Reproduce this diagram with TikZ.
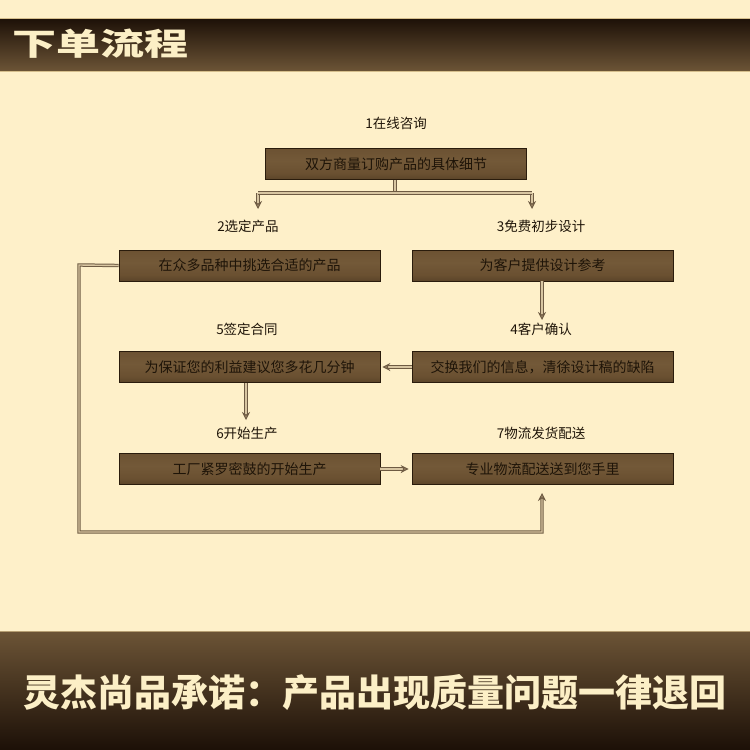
\documentclass[tikz,border=0pt]{standalone}
\usepackage{fontspec}
\newfontfamily\cjk{Noto Sans CJK SC}
\usetikzlibrary{arrows.meta}
\definecolor{bg}{HTML}{FEF0C9}
\definecolor{cream}{HTML}{FCEFC6}
\definecolor{ink}{HTML}{1E1408}
\definecolor{bandtop}{HTML}{1C1007}
\definecolor{bandmid}{HTML}{4E3B24}
\definecolor{bandbot}{HTML}{6C5436}
\definecolor{boxedge}{HTML}{2A1C0C}
\definecolor{boxdark}{HTML}{4A3620}
\definecolor{boxmid}{HTML}{6A5031}
\definecolor{boxlight}{HTML}{735938}
\definecolor{lineout}{HTML}{6E5B43}
\definecolor{linein}{HTML}{D8C6A2}
\definecolor{tipfill}{HTML}{A38D6C}
\definecolor{edge}{HTML}{D5BE8C}
\pgfdeclareverticalshading{boxshade}{100bp}{color(0bp)=(boxedge); color(3bp)=(boxedge); color(14bp)=(boxdark); color(35bp)=(boxmid); color(55bp)=(boxlight); color(80bp)=(boxmid); color(93bp)=(boxdark); color(97bp)=(boxedge); color(100bp)=(boxedge)}
\tikzset{
  stepbox/.style={rectangle, minimum width=261pt, minimum height=31pt, inner sep=0pt,
    shading=boxshade, draw=boxedge, line width=0.6pt, text=ink,
    font=\cjk\fontsize{14}{14}\selectfont},
  lab/.style={text=ink, inner sep=0pt, font=\cjk\fontsize{13.5}{14}\selectfont},
  conn/.style={draw=lineout, line width=1pt, double=linein, double distance=1.4pt},
  arr/.style={-{Stealth[length=8pt,width=8pt,inset=2.6pt,fill=tipfill]}}
}
\begin{document}
\begin{tikzpicture}[x=1pt,y=-1pt]
\useasboundingbox (0,0) rectangle (750,750);
\fill[bg] (0,0) rectangle (750,750);
% header band
\shade[top color=bandtop, middle color=bandmid, bottom color=bandbot] (0,18) rectangle (750,71);
\draw[edge, line width=0.8pt] (0,18) -- (750,18);
\draw[edge, line width=0.8pt] (0,71) -- (750,71);
\node[anchor=west, text=cream, inner sep=0pt, font=\cjk\bfseries\fontsize{31}{31}\selectfont] (title) at (12,44) {\scalebox{1.42}[1]{下单流程}};
% footer band
\shade[top color=bandbot, middle color=bandmid, bottom color=bandtop] (0,631) rectangle (750,750);
\draw[edge!70!bandbot, line width=0.8pt] (0,631) -- (750,631);
\node[text=cream, inner sep=0pt, font=\cjk\bfseries\fontsize{37}{37}\selectfont] (promise) at (375,692) {灵杰尚品承诺：产品出现质量问题一律退回};
% labels
\node[lab] (l1) at (396,123) {1在线咨询};
\node[lab] (l2) at (248,226) {2选定产品};
\node[lab] (l3) at (541,226) {3免费初步设计};
\node[lab] (l5) at (247,329) {5签定合同};
\node[lab] (l4) at (541,329) {4客户确认};
\node[lab] (l6) at (247,433) {6开始生产};
\node[lab] (l7) at (541,433) {7物流发货配送};
% boxes
\node[stepbox] (b1) at (396,164) {双方商量订购产品的具体细节};
\node[stepbox] (b2) at (249.5,265.5) {在众多品种中挑选合适的产品};
\node[stepbox] (b3) at (542.5,265.5) {为客户提供设计参考};
\node[stepbox] (b5) at (249.5,367) {为保证您的利益建议您多花几分钟};
\node[stepbox] (b4) at (542.5,367) {交换我们的信息，清徐设计稿的缺陷};
\node[stepbox] (b6) at (249.5,469) {工厂紧罗密鼓的开始生产};
\node[stepbox] (b7) at (542.5,469) {专业物流配送送到您手里};
% coordinates
\coordinate (sm) at (395,193);
\coordinate (sl) at (258,193);
\coordinate (sr) at (532,193);
\coordinate (tl) at (258,209);
\coordinate (tr) at (532,209);
\coordinate (t4) at (542,320);
\coordinate (t6) at (246,420);
\coordinate (fa) at (79,265);
\coordinate (fb) at (79,532);
\coordinate (fc) at (542,532);
\coordinate (t7) at (542,493);
% connectors
\draw[conn, arr] (sl) -- (tl);
\draw[conn, arr] (sr) -- (tr);
\draw[conn] (sl) -- (sr);
\draw[conn] (b1.south -| sm) -- ([yshift=1.6pt]sm);
\draw[conn, arr] (b3.south -| t4) -- (t4);
\draw[conn, arr] (b5.south -| t6) -- (t6);
\draw[conn, arr] (b4.west) -- ([xshift=2pt]b5.east);
\draw[conn, arr] (b6.east) -- ([xshift=-3pt]b7.west);
\draw[conn, arr] (b2.west) -- (fa) -- (fb) -- (fc) -- (t7);
\end{tikzpicture}
\end{document}
